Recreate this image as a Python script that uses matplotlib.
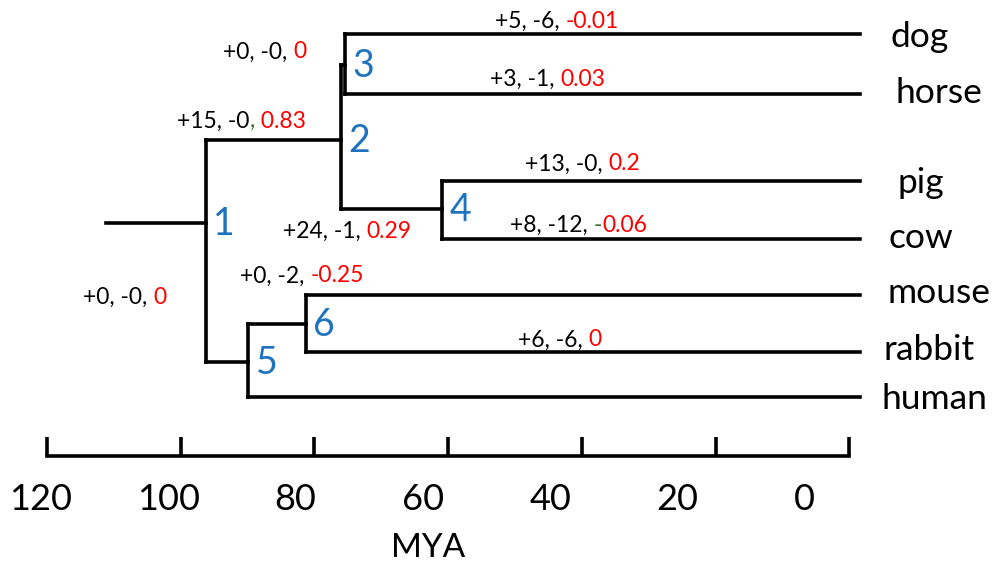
import matplotlib
matplotlib.use("Agg")
import matplotlib.pyplot as plt

# ---------------- data ----------------
taxa = ["dog", "horse", "pig", "cow", "mouse", "rabbit", "human"]
# internal nodes: name -> (children, age in MYA)
node_names = ["1", "2", "3", "4", "5", "6"]
node_children = [["2", "5"], ["3", "4"], ["dog", "horse"], ["pig", "cow"], ["6", "human"], ["mouse", "rabbit"]]
node_ages = [96.2, 76.0, 75.4, 60.9, 89.9, 81.3]
root_age = 111.2
tip_age = -1.6
# branch annotations: branch (child end) -> gains, losses, score
ann_branch = ["dog", "horse", "3", "2", "pig", "cow", "4", "6", "5", "rabbit"]
ann_gain = [5, 3, 0, 15, 13, 8, 24, 0, 0, 6]
ann_loss = [6, 1, 0, 0, 0, 12, 1, 2, 0, 6]
ann_score = [-0.01, 0.03, 0, 0.83, 0.2, -0.06, 0.29, -0.25, 0, 0]
scale_ticks = [120, 100, 80, 60, 40, 20, 0]
xlabel = "MYA"

# ---------------- layout (pixel rows / positions) ----------------
W, H = 1002, 563
PX_PER_MY = 6.685
X0_PX = 47  # pixel x of 120 MYA
def px2t(px):
    return 120 - (px - X0_PX) / PX_PER_MY

row_y = {"dog": 34, "horse": 94, "pig": 181, "cow": 239, "mouse": 295, "rabbit": 352,
         "human": 397, "3": 65, "4": 209, "2": 140, "6": 324, "5": 362, "1": 223}
taxon_label_px = {"dog": 891, "horse": 896, "pig": 897, "cow": 889, "mouse": 888,
                  "rabbit": 883, "human": 881}
taxon_label_dy = {"dog": 3, "horse": -1, "pig": 2, "cow": -1, "mouse": -2, "rabbit": -2, "human": 2}
ann_pos_px = {"dog": (495, 21), "horse": (490, 79), "3": (223, 52), "2": (177, 121),
              "pig": (525, 164), "cow": (510, 225), "4": (283, 231), "6": (240, 276),
              "5": (83, 297), "rabbit": (518, 340)}
sep_green = {"2": "comma", "cow": "minus"}

BLUE = "#1F73BE"
RED = "#FF0000"
GREEN = "#3A6B2A"
LW = 2.6

plt.rcParams['font.family'] = ['Lato', 'DejaVu Sans']
fig = plt.figure(figsize=(W / 100, H / 100), dpi=100)
ax = fig.add_axes([0, 0, 1, 1])
ax.set_xlim(px2t(0), px2t(W))
ax.set_ylim(H, 0)
ax.axis("off")

age = dict(zip(node_names, node_ages))
children = dict(zip(node_names, node_children))
for t in taxa:
    age[t] = tip_age

line_kw = dict(color="black", lw=LW, solid_capstyle="projecting")

def draw(node):
    if node not in children:
        return
    kids = children[node]
    ys = [row_y[k] for k in kids]
    ax.plot([age[node], age[node]], [min(ys), max(ys)], **line_kw)
    for k in kids:
        ax.plot([age[node], age[k]], [row_y[k], row_y[k]], **line_kw)
        draw(k)

ax.plot([root_age, age["1"]], [row_y["1"], row_y["1"]], **line_kw)
draw("1")

# node numbers
for n in node_names:
    ax.text(age[n] - 1.1, row_y[n] + 1, n, color=BLUE, fontsize=27, ha="left", va="center")

# taxon labels
for t in taxa:
    ax.text(px2t(taxon_label_px[t]), row_y[t] + taxon_label_dy[t], t, fontsize=25.5,
            ha="left", va="center", color="black")

# annotations
fs_ann = 16.5
for b, g, l, s in zip(ann_branch, ann_gain, ann_loss, ann_score):
    xp, yp = ann_pos_px[b]
    sc = f"{s:g}"
    mode = sep_green.get(b)
    if mode == "comma":
        parts = [(f"+{g}, -{l}", "black"), (",", GREEN), (f" {sc}", RED)]
    elif mode == "minus":
        parts = [(f"+{g}, -{l}, ", "black"), ("-", GREEN), (sc.lstrip("-"), RED)]
    else:
        parts = [(f"+{g}, -{l}, ", "black"), (sc, RED)]
    prev = ax.text(px2t(xp), yp, parts[0][0], color=parts[0][1], fontsize=fs_ann,
                   ha="left", va="center")
    for txt, col in parts[1:]:
        prev = ax.annotate(txt, xy=(1, 0.5), xycoords=prev, color=col, fontsize=fs_ann,
                           ha="left", va="center")

# scale bar
bar_y = 456
tick_top = 437
ax.plot([scale_ticks[0], scale_ticks[-1]], [bar_y, bar_y], color="black", lw=LW,
        solid_capstyle="projecting")
for tk in scale_ticks:
    ax.plot([tk, tk], [bar_y, tick_top], color="black", lw=LW, solid_capstyle="butt")
    lx = tk + 0.9 + (120 - tk) * 0.048
    ax.text(lx, 499, str(tk), fontsize=26, ha="center", va="center")
ax.text(px2t(428), 548, xlabel, fontsize=24, ha="center", va="center")

fig.savefig("out.png", dpi=100)
